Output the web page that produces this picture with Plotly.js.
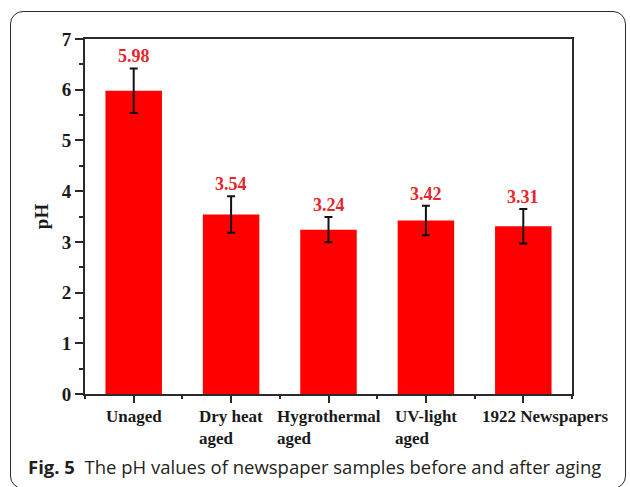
<!DOCTYPE html>
<html>
<head>
<meta charset="utf-8">
<script src="https://cdn.plot.ly/plotly-3.0.1.min.js"></script>
<style>
  html, body { margin: 0; padding: 0; background: #ffffff; }
  #wrap { position: relative; width: 630px; height: 487px; overflow: hidden; }
  #frame { position: absolute; left: 10px; top: 11px; width: 616px; height: 478px;
           border: 1.3px solid #2a2a2a; border-radius: 13px; box-sizing: border-box; }
  #chart { position: absolute; left: 0; top: 0; width: 630px; height: 487px; }
</style>
</head>
<body>
<div id="wrap">
  <div id="frame"></div>
  <div id="chart"></div>
</div>
<script>
// ---- data ----
const categories = ["Unaged", "Dry heat<br>aged", "Hygrothermal<br>aged", "UV-light<br>aged", "1922 Newspapers"];
const phValues   = [5.98, 3.54, 3.24, 3.42, 3.31];
const phErrors   = [0.44, 0.36, 0.25, 0.29, 0.34];
const valueLabels = ["5.98", "3.54", "3.24", "3.42", "3.31"];
const yTickLabels = ["0", "1", "2", "3", "4", "5", "6", "7"];
const captionBold = "Fig. 5";
const captionText = "The pH values of newspaper samples before and after aging";

const serifFamily = "'Liberation Serif', 'Times New Roman', serif";
const serifBold = { family: serifFamily, weight: 700, color: "#1a1a1a" };
const idx = categories.map((_, i) => i);

const trace = {
  type: "bar",
  x: idx,
  y: phValues,
  width: 0.58,
  marker: { color: "#ff0000", line: { width: 0 } },
  error_y: { type: "data", array: phErrors, visible: true, color: "#111111", thickness: 2, width: 4 },
  hoverinfo: "skip"
};

const annotations = [];
// value labels above the error bars
idx.forEach(i => {
  annotations.push({
    x: i, y: phValues[i] + phErrors[i], xref: "x", yref: "y",
    text: "<b>" + valueLabels[i] + "</b>", showarrow: false, yanchor: "bottom", yshift: 0,
    font: { family: serifFamily, size: 18, color: "#e8252b" }
  });
});
// category labels (left-aligned lines, like the original)
idx.forEach(i => {
  annotations.push({
    x: i, y: 0, xref: "x", yref: "paper",
    text: "<b>" + categories[i] + "</b>", showarrow: false, xanchor: "center", yanchor: "top",
    align: "left", yshift: -11, xshift: (i === categories.length - 1 ? 22 : 0),
    font: { family: serifFamily, size: 17, color: "#1a1a1a" }
  });
});
// caption
annotations.push({
  x: -0.121, y: -0.203, xref: "paper", yref: "paper",
  xanchor: "left", yanchor: "middle", showarrow: false, align: "left",
  text: "<b>" + captionBold + "</b>\u00a0\u00a0" + captionText,
  font: { family: "'Open Sans', 'Noto Sans', sans-serif", size: 18.5, color: "#231f20" }
});

const layout = {
  width: 630, height: 487,
  margin: { l: 85, r: 58, t: 39, b: 93, pad: 0 },
  paper_bgcolor: "rgba(0,0,0,0)",
  plot_bgcolor: "rgba(0,0,0,0)",
  showlegend: false,
  xaxis: {
    type: "linear", range: [-0.5, 4.5],
    tick0: 0, dtick: 1, showticklabels: false,
    ticks: "outside", ticklen: 7, tickwidth: 2, tickcolor: "#2a2a2a",
    minor: { tick0: 0.5, dtick: 1, ticks: "outside", ticklen: 3, tickwidth: 2, tickcolor: "#2a2a2a", showgrid: false },
    showline: true, linewidth: 2, linecolor: "#2a2a2a", mirror: true,
    showgrid: false, zeroline: false, fixedrange: true
  },
  yaxis: {
    range: [0, 7],
    tickmode: "array", tickvals: yTickLabels.map(Number), ticktext: yTickLabels.map(t => "<b>" + t + "</b>"),
    ticks: "outside", ticklen: 8, tickwidth: 2, tickcolor: "#2a2a2a",
    minor: { tickmode: "linear", tick0: 0, dtick: 0.5, ticks: "outside", ticklen: 4, tickwidth: 2, tickcolor: "#2a2a2a", showgrid: false },
    tickfont: { family: serifFamily, size: 19, color: "#1a1a1a" },
    showline: true, linewidth: 2, linecolor: "#2a2a2a", mirror: true,
    showgrid: false, zeroline: false, fixedrange: true,
    title: { text: "<b>pH</b>", font: { family: serifFamily, size: 19, color: "#1a1a1a" }, standoff: 8 }
  },
  annotations: annotations
};

Plotly.newPlot("chart", [trace], layout, { displayModeBar: false, staticPlot: true });
</script>
</body>
</html>
